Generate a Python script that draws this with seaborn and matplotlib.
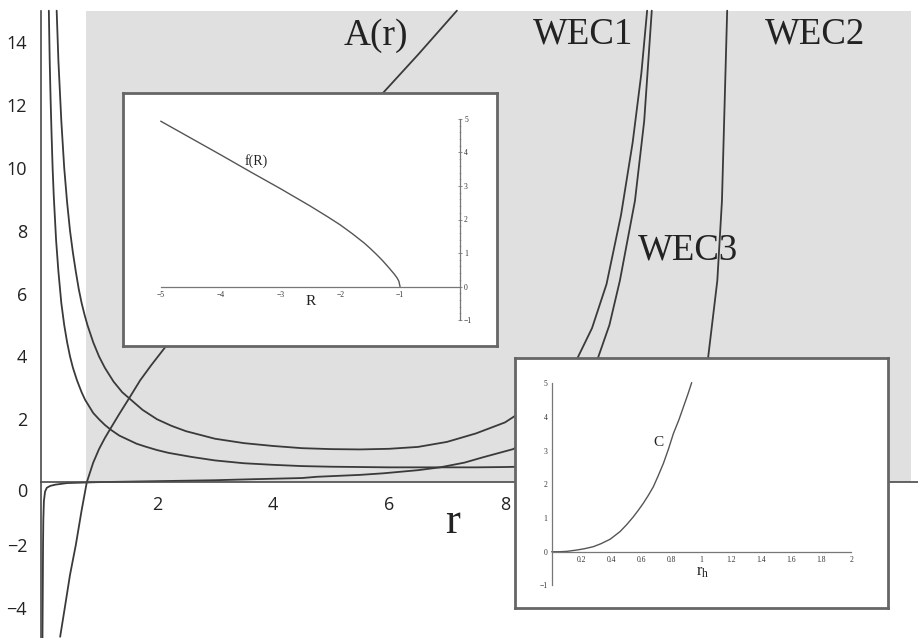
import numpy as np
import pandas as pd
import matplotlib.pyplot as plt
from matplotlib.patches import Rectangle
from matplotlib.ticker import FixedLocator
import matplotlib.transforms as mtransforms
import seaborn as sns

# ---- main panel, values ----
r_A = [0.33, 0.41, 0.5, 0.6, 0.7, 0.79, 0.9, 1.0, 1.1, 1.19, 1.35, 1.52, 1.71, 1.9, 2.14,
       2.6, 3.0, 3.5, 4.0, 4.5, 5.0, 5.5, 5.88, 6.5, 7.17]
A_r = [-4.92, -4.0, -2.95, -2.0, -0.9, 0.0, 0.62, 1.05, 1.4, 1.68, 2.17, 2.67, 3.24, 3.72,
       4.29, 5.25, 6.1, 7.15, 8.2, 9.25, 10.3, 11.5, 12.35, 13.6, 15.0]

r_wec1 = [0.27, 0.3, 0.35, 0.4, 0.45, 0.5, 0.55, 0.6, 0.65, 0.7, 0.75, 0.8, 0.9, 1.0, 1.1,
          1.25, 1.4, 1.5, 1.75, 2.0, 2.25, 2.5, 3.0, 3.5, 4.0, 4.5, 5.0, 5.5, 6.0, 6.5, 7.0,
          7.5, 8.0, 8.5, 9.0, 9.25, 9.5, 9.75, 10.0, 10.2, 10.35, 10.45]
wec1 = [15.0, 13.4, 11.5, 10.0, 8.9, 8.0, 7.3, 6.7, 6.15, 5.7, 5.33, 5.0, 4.45, 4.0, 3.64,
        3.2, 2.86, 2.7, 2.3, 2.0, 1.79, 1.62, 1.38, 1.24, 1.15, 1.08, 1.05, 1.04, 1.06, 1.12,
        1.28, 1.55, 1.9, 2.5, 3.3, 3.95, 4.9, 6.3, 8.5, 10.8, 13.0, 15.0]

r_wec2 = [0.135, 0.15, 0.165, 0.18, 0.2, 0.22, 0.26, 0.3, 0.35, 0.4, 0.45, 0.5, 0.55, 0.62,
          0.7, 0.76, 0.85, 0.9, 1.0, 1.1, 1.2, 1.35, 1.5, 1.65, 1.8, 2.0, 2.2, 2.6, 3.0, 3.5,
          4.0, 4.5, 5.0, 5.5, 6.0, 6.5, 7.0, 7.5, 8.0, 8.5, 9.0, 9.5, 10.0, 10.5, 11.0,
          11.3, 11.5, 11.66, 11.74, 11.83]
wec2 = [15.0, 13.4, 12.2, 11.2, 10.0, 9.1, 7.7, 6.7, 5.7, 5.0, 4.45, 4.0, 3.64, 3.24,
        2.86, 2.62, 2.35, 2.2, 2.0, 1.82, 1.67, 1.48, 1.35, 1.22, 1.13, 1.02, 0.93, 0.8,
        0.69, 0.6, 0.55, 0.51, 0.49, 0.48, 0.47, 0.47, 0.47, 0.47, 0.48, 0.5, 0.55, 0.65,
        0.85, 1.2, 1.9, 2.7, 3.94, 6.41, 8.95, 15.0]

r_wec3 = [0.025, 0.03, 0.035, 0.04, 0.05, 0.07, 0.1, 0.16, 0.25, 0.45, 1.0, 2.0, 3.0, 3.6,
          4.5, 4.76, 5.5, 5.9, 6.5, 6.88, 7.3, 7.62, 8.14, 8.5, 8.9, 9.3, 9.6, 9.8, 9.98,
          10.24, 10.4, 10.53]
wec3 = [-5.0, -3.6, -2.0, -1.2, -0.6, -0.3, -0.18, -0.12, -0.08, -0.03, 0.0, 0.03, 0.06,
        0.09, 0.13, 0.17, 0.23, 0.28, 0.38, 0.47, 0.62, 0.79, 1.05, 1.45, 2.1, 3.0, 3.94,
        5.0, 6.41, 8.95, 11.5, 15.0]

x_ticks = [2, 4, 6, 8, 10, 12, 14]
y_ticks = [-4, -2, 0, 2, 4, 6, 8, 10, 12, 14]

# ---- inset f(R) ----
R_vals = [-5.0, -4.5, -4.0, -3.5, -3.0, -2.5, -2.2, -2.0, -1.8, -1.6, -1.5, -1.4, -1.3,
          -1.2, -1.1, -1.05, -1.02, -1.0]
f_vals = [4.93, 4.43, 3.93, 3.42, 2.92, 2.40, 2.07, 1.84, 1.58, 1.30, 1.14, 0.97, 0.79,
          0.59, 0.38, 0.26, 0.16, 0.0]

# ---- inset C(r_h) ----
rh_vals = [0.0, 0.05, 0.1, 0.167, 0.22, 0.278, 0.33, 0.39, 0.457, 0.5, 0.546, 0.58, 0.612,
           0.645, 0.679, 0.71, 0.746, 0.78, 0.813, 0.85, 0.88, 0.91, 0.935]
C_vals = [0.0, 0.0, 0.01, 0.05, 0.09, 0.15, 0.24, 0.37, 0.6, 0.8, 1.04, 1.24, 1.44, 1.67,
          1.93, 2.24, 2.62, 3.05, 3.51, 3.92, 4.3, 4.68, 5.02]

sns.set_style('white')
plt.rcParams['font.family'] = ['Open Sans', 'DejaVu Sans']

W, H = 918, 638
line_c = '#3a3a3a'
axis_c = '#4a4a4a'
serif = ['Liberation Serif', 'DejaVu Serif']


def px_rect(x0, y0, x1, y1):
    return [x0 / W, 1 - y1 / H, (x1 - x0) / W, (y1 - y0) / H]


fig = plt.figure(figsize=(W / 100, H / 100), dpi=100)
ax = fig.add_axes([0, 0, 1, 1])
ax.set_xlim(-0.707, 15.12)
ax.set_ylim(-4.96, 15.34)

# shaded region
ax.add_patch(Rectangle((0.78, 0), 15.0 - 0.78, 15.0, facecolor='#e0e0e0', lw=0, zorder=0))

for xs, ys in [(r_A, A_r), (r_wec1, wec1), (r_wec2, wec2), (r_wec3, wec3)]:
    sns.lineplot(x=xs, y=ys, ax=ax, color=line_c, lw=1.3, estimator=None, sort=False)

ax.spines[['top', 'right']].set_visible(False)
ax.spines['left'].set_position(('data', 0))
ax.spines['bottom'].set_position(('data', 0))
ax.spines['left'].set_bounds(-5, 15)
ax.spines['bottom'].set_bounds(0, 15.2)
for s in ['left', 'bottom']:
    ax.spines[s].set_color(axis_c)
    ax.spines[s].set_linewidth(1.2)

ax.set_xticks(x_ticks, [str(t) for t in x_ticks])
ax.set_yticks(y_ticks, [str(t).replace('-', '\u2212') for t in y_ticks])
ax.xaxis.set_minor_locator(FixedLocator(np.arange(0.4, 15.1, 0.4)))
ax.yaxis.set_minor_locator(FixedLocator(np.arange(-4.8, 15.01, 0.4)))
ax.tick_params(which='major', direction='out', length=6, width=1, color=axis_c,
               labelsize=13, labelcolor='#222', pad=4)
ax.tick_params(which='minor', direction='out', length=3, width=0.8, color='#777')
ax.set_xlabel('')
ax.set_ylabel('')

# push the y "0" label a bit below the axis, as in the original
off = mtransforms.ScaledTranslation(0, -8 / 100, fig.dpi_scale_trans)
for t in ax.yaxis.get_major_ticks():
    if t.get_loc() == 0:
        t.label1.set_transform(t.label1.get_transform() + off)


def to_data(px, py):
    return (px - 41) / 58, (482 - py) / 31.43


for txt, (px, py), fs in [('A(r)', (376, 36), 27), ('WEC1', (583, 34), 26.5),
                          ('WEC2', (815, 34), 26.5), ('WEC3', (688, 250), 26.5),
                          ('r', (453, 522), 32)]:
    x, y = to_data(px, py)
    ax.text(x, y, txt, fontsize=fs, family=serif, color='#222', ha='center', va='center')


def make_inset(frame):
    fr = fig.add_axes(px_rect(*frame))
    fr.set_facecolor('white')
    fr.set_xticks([])
    fr.set_yticks([])
    for s in fr.spines.values():
        s.set_visible(True)
        s.set_color('#666')
        s.set_linewidth(2)
    inner = fig.add_axes(px_rect(*frame))
    inner.patch.set_alpha(0)
    return inner


# inset 1: f(R)
in1 = make_inset((123, 93, 497, 346))
in1.set_xlim(-5.63, 0.62)
in1.set_ylim(-1.77, 5.77)
sns.lineplot(x=R_vals, y=f_vals, ax=in1, color='#555', lw=1.0, estimator=None, sort=False)
in1.spines[['top', 'left']].set_visible(False)
in1.spines['right'].set_position(('data', 0))
in1.spines['bottom'].set_position(('data', 0))
in1.spines['right'].set_bounds(-1, 5)
in1.spines['bottom'].set_bounds(-5, 0)
in1.yaxis.set_ticks_position('right')
in1.set_xticks([-5, -4, -3, -2, -1], ['\u22125', '\u22124', '\u22123', '\u22122', '\u22121'])
in1.set_yticks([-1, 0, 1, 2, 3, 4, 5], ['\u22121', '0', '1', '2', '3', '4', '5'])
in1.xaxis.set_minor_locator(FixedLocator(np.arange(-5, 0.01, 0.2)))
in1.yaxis.set_minor_locator(FixedLocator(np.arange(-1, 5.01, 0.2)))
in1.text(-3.41, 3.75, 'f(R)', fontsize=10, family=serif, color='#222', ha='center', va='center')
in1.text(-2.5, -0.45, 'R', fontsize=11, family=serif, color='#222', ha='center', va='center')

# inset 2: C(r_h)
in2 = make_inset((515, 358, 888, 608))
in2.set_xlim(-0.245, 2.246)
in2.set_ylim(-1.67, 5.75)
sns.lineplot(x=rh_vals, y=C_vals, ax=in2, color='#555', lw=1.0, estimator=None, sort=False)
in2.spines[['top', 'right']].set_visible(False)
in2.spines['left'].set_position(('data', 0))
in2.spines['bottom'].set_position(('data', 0))
in2.spines['left'].set_bounds(-1, 5)
in2.spines['bottom'].set_bounds(0, 2)
rh_ticks = [0.2, 0.4, 0.6, 0.8, 1, 1.2, 1.4, 1.6, 1.8, 2]
in2.set_xticks(rh_ticks, [str(t) for t in rh_ticks])
in2.set_yticks([-1, 0, 1, 2, 3, 4, 5], ['\u22121', '0', '1', '2', '3', '4', '5'])
in2.xaxis.set_minor_locator(FixedLocator(np.arange(0, 2.001, 0.05)))
in2.yaxis.set_minor_locator(FixedLocator(np.arange(-1, 5.01, 0.2)))
in2.text(0.71, 3.23, 'C', fontsize=11, family=serif, color='#222', ha='center', va='center')
in2.text(1.01, -0.6, r'$\mathregular{r_h}$', fontsize=12, family=serif, color='#222',
         ha='center', va='center')

for a in (in1, in2):
    for s in a.spines.values():
        s.set_color('#777')
        s.set_linewidth(0.9)
    a.tick_params(which='major', direction='inout', length=3, width=0.6, color='#777',
                  labelsize=5.5, labelcolor='#333', pad=1.5, labelfontfamily='Liberation Serif')
    a.tick_params(which='minor', direction='inout', length=1.5, width=0.4, color='#999')
    a.set_xlabel('')
    a.set_ylabel('')

fig.savefig('out.png', dpi=100)
